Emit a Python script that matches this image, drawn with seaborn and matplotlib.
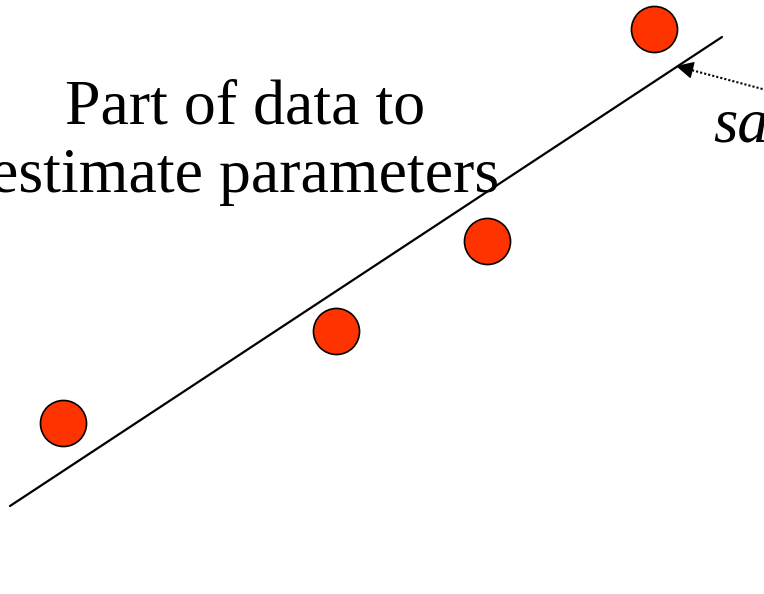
import matplotlib
matplotlib.use("Agg")
import matplotlib.pyplot as plt
import seaborn as sns
import pandas as pd

# Observations used for the fit
obs_x = [63, 336, 487, 654]
obs_y = [423, 331, 241, 29]

# Fitted straight line (end points)
fit_x = [10, 722]
fit_y = [506, 37]

label_lines = ["Part of data to", "estimate parameters"]
side_label = "sa"

sns.set_theme(style="white")
plt.rcParams["font.family"] = ["Liberation Serif", "DejaVu Serif"]

fig = plt.figure(figsize=(7.64, 5.94), dpi=100)
ax = fig.add_axes([0, 0, 1, 1])
ax.set_xlim(0, 764)
ax.set_ylim(594, 0)
ax.axis("off")

# Labels
ax.text(245, 123, label_lines[0], ha="center", va="baseline", fontsize=46, color="black")
ax.text(245, 192, label_lines[1], ha="center", va="baseline", fontsize=46, color="black")
ax.text(713, 142, side_label, ha="left", va="baseline", fontsize=45, style="italic", color="black")

# Fitted line
fit_df = pd.DataFrame({"x": fit_x, "y": fit_y})
sns.lineplot(data=fit_df, x="x", y="y", ax=ax, color="black", linewidth=1.6, sort=False)

# Data points
obs_df = pd.DataFrame({"x": obs_x, "y": obs_y})
sns.scatterplot(data=obs_df, x="x", y="y", ax=ax, s=1100, color="#FF3300",
                edgecolor="black", linewidth=1.2, zorder=5)

# Dotted pointer to the line
ax.plot([680, 770], [67, 91], color="black", linestyle=(0, (1, 1.0)), linewidth=1.5)
ax.annotate("", xy=(676, 66), xytext=(692, 70),
            arrowprops=dict(arrowstyle="-|>,head_length=0.9,head_width=0.45",
                            color="black", lw=1.0, shrinkA=0, shrinkB=0))

ax.set_xlabel("")
ax.set_ylabel("")
fig.savefig("out.png", dpi=100)
